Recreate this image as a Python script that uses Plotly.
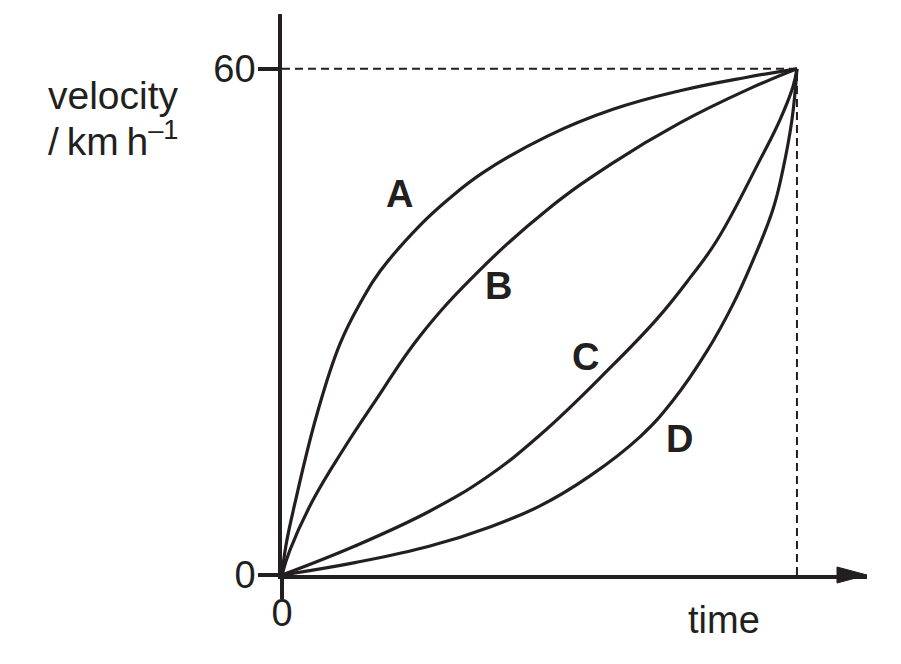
import plotly.graph_objects as go

# ---- data ----
t_max = 1.0
v_max = 60

a_x = [0, 0.0078, 0.0252, 0.068, 0.1126, 0.1553, 0.1903, 0.268, 0.3262, 0.3903, 0.5146, 0.6427, 0.7728, 0.9029, 1]
a_y = [0, 3.56, 8.54, 19.09, 27.4, 32.6, 36.0, 41.45, 44.7, 47.7, 52.0, 55.2, 57.4, 59.0, 60]

b_x = [0, 0.0155, 0.0602, 0.1184, 0.1825, 0.268, 0.3845, 0.5146, 0.6427, 0.7728, 0.9029, 1]
b_y = [0, 2.96, 8.89, 14.82, 20.75, 28.34, 36.17, 43.28, 48.86, 53.6, 57.51, 60]

c_x = [0, 0.1417, 0.2874, 0.3981, 0.501, 0.6311, 0.7282, 0.7922, 0.8447, 0.9282, 0.967, 0.9922, 1]
c_y = [0, 3.44, 7.59, 11.62, 16.6, 24.19, 30.36, 35.22, 39.68, 49.21, 53.96, 57.87, 60]

d_x = [0, 0.1417, 0.2874, 0.4039, 0.501, 0.5981, 0.6951, 0.7592, 0.8252, 0.8757, 0.9146, 0.9534, 0.9728, 0.9903, 1]
d_y = [0, 1.47, 3.43, 5.7, 8.19, 11.75, 16.38, 20.68, 26.53, 32.08, 37.3, 43.35, 48.09, 53.98, 60]

curve_labels = ["A", "B", "C", "D"]
label_x = [0.228, 0.420, 0.589, 0.772]
label_y = [45.2, 34.3, 25.9, 16.1]

x_tickvals = [0]
x_ticktext = ["0"]
y_tickvals = [0, 60]
y_ticktext = ["0", "60"]

INK = "#231f20"
FONT = "Liberation Sans, Arial, sans-serif"

fig = go.Figure()

# guide dashed lines
fig.add_trace(go.Scatter(x=[0, t_max], y=[v_max, v_max], mode="lines",
                         line=dict(color=INK, width=2, dash="8px,5px"),
                         hoverinfo="skip", showlegend=False))
fig.add_trace(go.Scatter(x=[t_max, t_max], y=[0, v_max], mode="lines",
                         line=dict(color=INK, width=2, dash="8px,5px"),
                         hoverinfo="skip", showlegend=False))

for xs, ys in [(a_x, a_y), (b_x, b_y), (c_x, c_y), (d_x, d_y)]:
    fig.add_trace(go.Scatter(x=xs, y=ys, mode="lines",
                             line=dict(color=INK, width=3.2, shape="spline", smoothing=1.2),
                             showlegend=False, hoverinfo="skip", cliponaxis=False))

for lab, lx, ly in zip(curve_labels, label_x, label_y):
    fig.add_annotation(x=lx, y=ly, text="<b>%s</b>" % lab, showarrow=False,
                       font=dict(family=FONT, size=38, color=INK),
                       xanchor="center", yanchor="middle")

# axis titles (paper coordinates, outside the plot area)
fig.add_annotation(xref="paper", yref="paper", x=-0.403, y=0.855, text="velocity",
                   showarrow=False, font=dict(family=FONT, size=39, color=INK),
                   xanchor="left", yanchor="middle")
fig.add_annotation(xref="paper", yref="paper", x=-0.403, y=0.778,
                   text="/\u2009km\u2009h<sup>\u20131</sup>", showarrow=False,
                   font=dict(family=FONT, size=39, color=INK),
                   xanchor="left", yanchor="middle")
fig.add_annotation(xref="paper", yref="paper", x=0.7556, y=-0.0802, text="time",
                   showarrow=False, font=dict(family=FONT, size=38, color=INK),
                   xanchor="center", yanchor="middle")

# arrow head on time axis
fig.add_shape(type="path", xref="paper", yref="paper",
              path="M 0.9487 0.0143 L 1.0 0 L 0.9487 -0.0143 Z",
              fillcolor=INK, line=dict(color=INK, width=1), layer="above")

fig.update_layout(
    width=885, height=645,
    margin=dict(l=274, r=26, t=6, b=78, pad=0),
    paper_bgcolor="white", plot_bgcolor="white",
    font=dict(family=FONT, size=38, color=INK),
    xaxis=dict(range=[0, 1.136], showline=True, linewidth=3.5, linecolor=INK,
               ticks="outside", ticklen=20, tickwidth=3.5, tickcolor=INK,
               tickvals=x_tickvals, ticktext=x_ticktext, ticklabelstandoff=-18,
               tickfont=dict(family=FONT, size=38, color=INK),
               showgrid=False, zeroline=False, fixedrange=True),
    yaxis=dict(range=[0, 66.5], showline=True, linewidth=3.5, linecolor=INK,
               ticks="outside", ticklen=20, tickwidth=3.5, tickcolor=INK,
               tickvals=y_tickvals, ticktext=y_ticktext, ticklabelstandoff=-5,
               tickfont=dict(family=FONT, size=38, color=INK),
               showgrid=False, zeroline=False, fixedrange=True),
)

fig.write_html("out.html")
